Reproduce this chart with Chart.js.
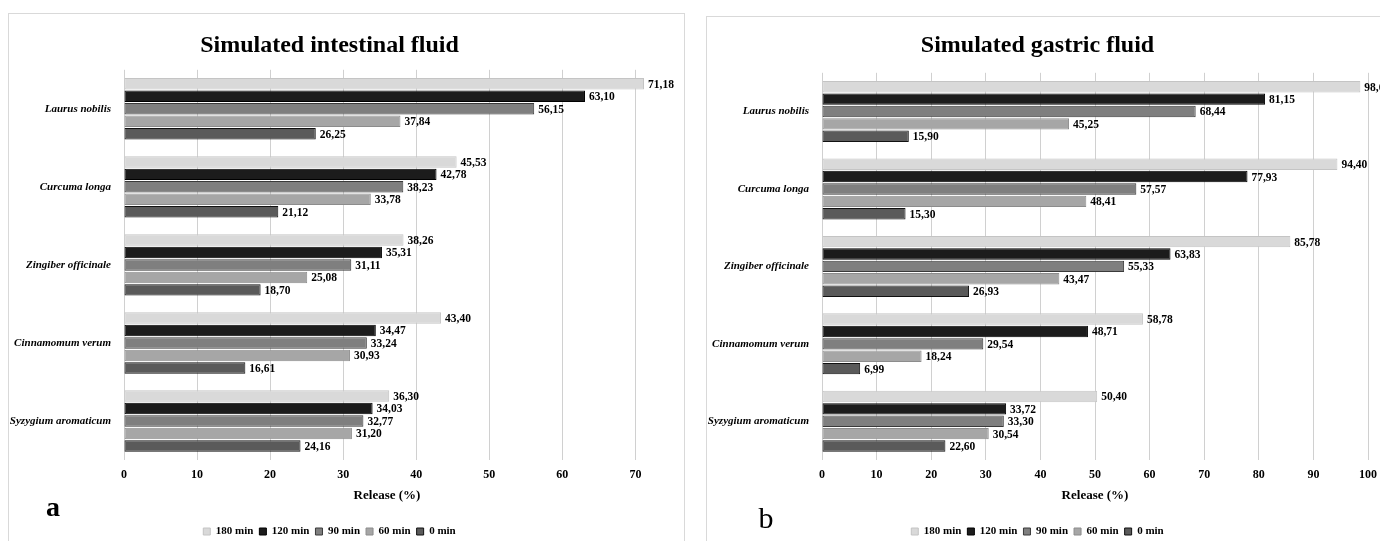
<!DOCTYPE html>
<html lang="en">
<head>
  <meta charset="UTF-8">
  <title>Release in simulated fluids</title>
  <script src="https://cdn.jsdelivr.net/npm/chart.js"></script>
  <style>
    html, body {
      margin: 0;
      padding: 0;
      background: #fff;
      overflow: hidden;
      width: 1380px;
      height: 541px;
    }
    .panel {
      position: absolute;
      border: 1px solid #d9d9d9;
      background: #fff;
    }
    .panel canvas {
      position: absolute;
      left: 0;
      top: 0;
    }
  </style>
</head>
<body>
  <div class="panel" style="left:8px; top:13px; width:675px; height:560px;">
    <canvas id="chartA" width="675" height="533"></canvas>
  </div>
  <div class="panel" style="left:706px; top:16px; width:700px; height:560px;">
    <canvas id="chartB" width="690" height="530"></canvas>
  </div>

  <script>
    const species = ['Laurus nobilis', 'Curcuma longa', 'Zingiber officinale', 'Cinnamomum verum', 'Syzygium aromaticum'];
    const timeLabels = ['180 min', '120 min', '90 min', '60 min', '0 min'];

    // simulated intestinal fluid, release (%)
    const intestinal180 = [71.18, 45.53, 38.26, 43.40, 36.30];
    const intestinal120 = [63.10, 42.78, 35.31, 34.47, 34.03];
    const intestinal90 = [56.15, 38.23, 31.11, 33.24, 32.77];
    const intestinal60 = [37.84, 33.78, 25.08, 30.93, 31.20];
    const intestinal0 = [26.25, 21.12, 18.70, 16.61, 24.16];

    // simulated gastric fluid, release (%)
    const gastric180 = [98.60, 94.40, 85.78, 58.78, 50.40];
    const gastric120 = [81.15, 77.93, 63.83, 48.71, 33.72];
    const gastric90 = [68.44, 57.57, 55.33, 29.54, 33.30];
    const gastric60 = [45.25, 48.41, 43.47, 18.24, 30.54];
    const gastric0 = [15.90, 15.30, 26.93, 6.99, 22.60];

    const fillColors = ['#d9d9d9', '#1c1c1c', '#7f7f7f', '#a6a6a6', '#5a5a5a'];
    const edgeColors = ['#c4c4c4', '#000000', '#3a3a3a', '#8c8c8c', '#111111'];
    const serif = '"Liberation Serif", "Times New Roman", serif';

    const valueLabels = {
      id: 'valueLabels',
      afterDatasetsDraw(chart) {
        const ctx = chart.ctx;
        ctx.save();
        ctx.font = 'bold 11.5px ' + serif;
        ctx.fillStyle = '#000';
        ctx.textBaseline = 'middle';
        ctx.textAlign = 'left';
        chart.data.datasets.forEach((ds, i) => {
          chart.getDatasetMeta(i).data.forEach((bar, j) => {
            ctx.fillText(ds.data[j].toFixed(2).replace('.', ','), bar.x + 4, bar.y + 1);
          });
        });
        ctx.restore();
      }
    };

    const panelLetter = {
      id: 'panelLetter',
      afterDraw(chart, args, opts) {
        const ctx = chart.ctx;
        ctx.save();
        ctx.font = opts.font;
        ctx.fillStyle = '#000';
        ctx.textBaseline = 'middle';
        ctx.textAlign = 'center';
        ctx.fillText(opts.text, opts.x, opts.y);
        ctx.restore();
      }
    };

    function makeChart(id, title, series, cfg) {
      return new Chart(document.getElementById(id), {
        type: 'bar',
        data: {
          labels: species,
          datasets: series.map((values, i) => ({
            label: timeLabels[i],
            data: values,
            backgroundColor: fillColors[i],
            borderColor: edgeColors[i],
            borderWidth: 1,
            borderSkipped: false,
            barPercentage: 0.92,
            categoryPercentage: 0.8
          }))
        },
        options: {
          indexAxis: 'y',
          responsive: false,
          animation: false,
          devicePixelRatio: 1,
          layout: { padding: { left: 0, right: cfg.padRight, top: 0, bottom: 0 } },
          plugins: {
            title: {
              display: true,
              text: title,
              color: '#000',
              font: { family: serif, size: 24, weight: 'bold' },
              padding: { top: cfg.titleTop, bottom: cfg.titleBottom }
            },
            legend: {
              position: 'bottom',
              labels: {
                boxWidth: 7,
                boxHeight: 7,
                padding: 6,
                color: '#000',
                font: { family: serif, size: 11, weight: 'bold' }
              }
            },
            tooltip: { enabled: false },
            panelLetter: cfg.letter
          },
          scales: {
            x: {
              min: 0,
              max: cfg.xMax,
              grid: { color: '#d0d0d0', drawTicks: false },
              border: { display: false },
              ticks: {
                stepSize: 10,
                includeBounds: false,
                padding: 8,
                color: '#000',
                font: { family: serif, size: 12, weight: 'bold' }
              },
              title: {
                display: true,
                text: 'Release (%)',
                color: '#000',
                font: { family: serif, size: 13, weight: 'bold' },
                padding: { top: 4, bottom: 17 }
              },
              afterFit(scale) { scale.height = 60; }
            },
            y: {
              grid: { display: false },
              border: { display: false },
              ticks: {
                padding: 5,
                color: '#000',
                font: { family: serif, size: 11, style: 'italic', weight: 'bold' }
              },
              afterFit(scale) { scale.width = 115; }
            }
          }
        },
        plugins: [valueLabels, panelLetter]
      });
    }

    makeChart('chartA', 'Simulated intestinal fluid',
      [intestinal180, intestinal120, intestinal90, intestinal60, intestinal0],
      {
        xMax: 72, padRight: 34, titleTop: 17, titleBottom: 10,
        letter: { text: 'a', x: 44, y: 495, font: 'bold 28px ' + serif }
      });

    makeChart('chartB', 'Simulated gastric fluid',
      [gastric180, gastric120, gastric90, gastric60, gastric0],
      {
        xMax: 100, padRight: 29, titleTop: 14, titleBottom: 13,
        letter: { text: 'b', x: 59, y: 503, font: '30px ' + serif }
      });
  </script>
</body>
</html>
